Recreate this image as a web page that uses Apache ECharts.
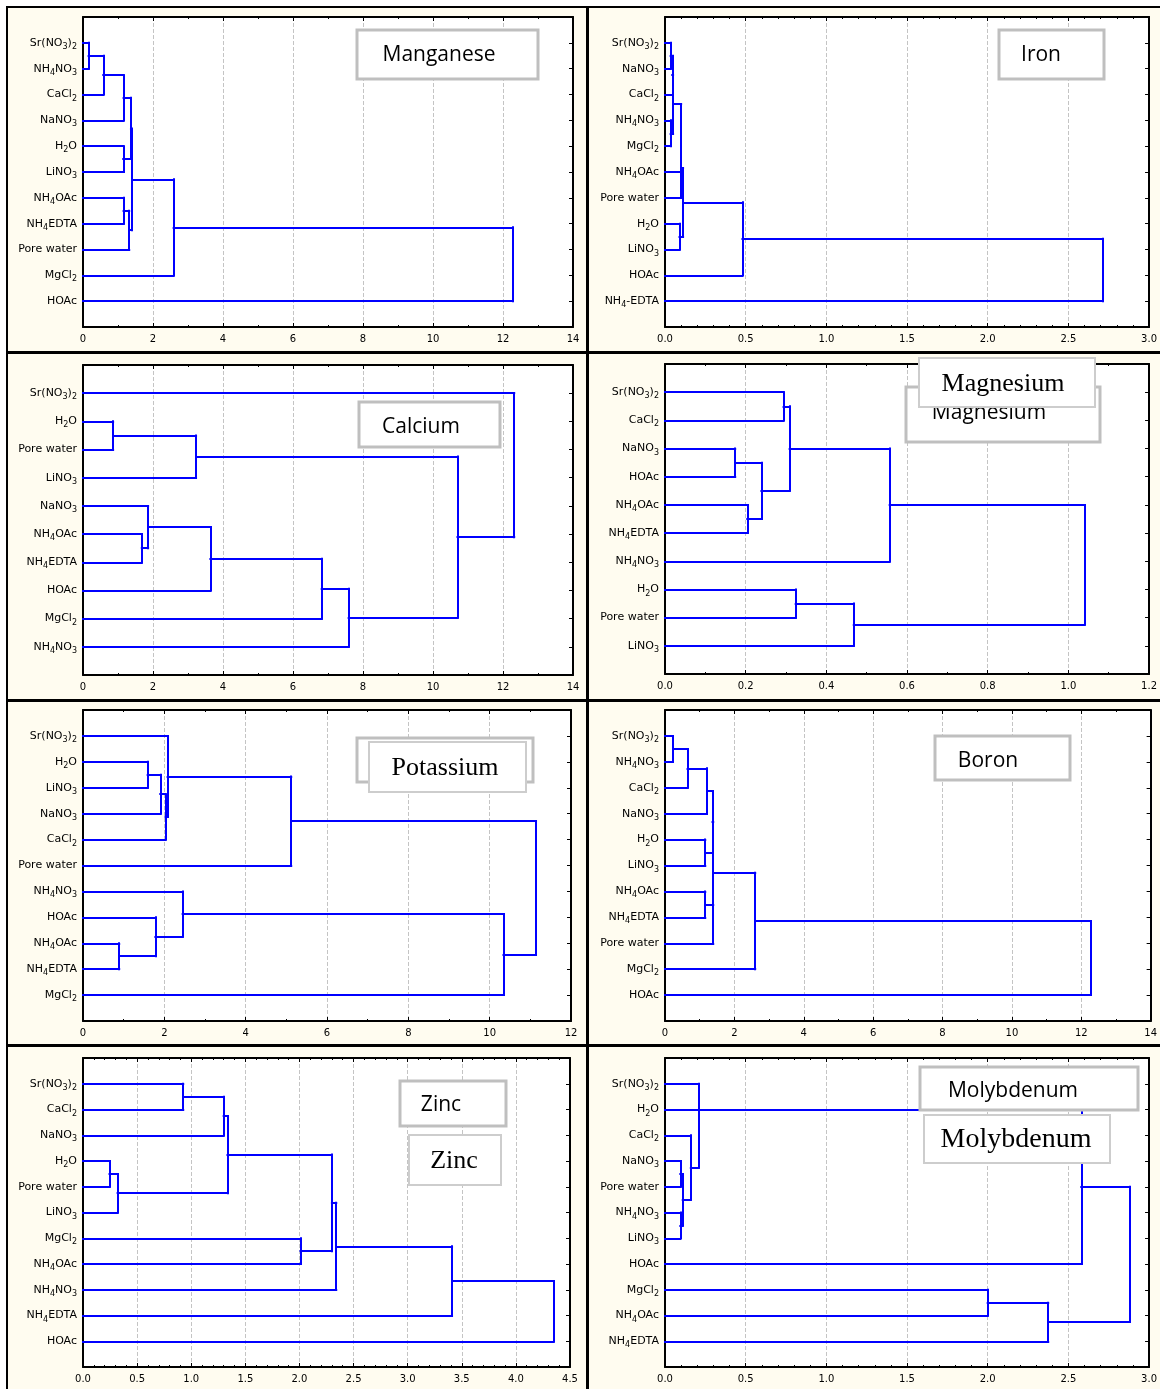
<!DOCTYPE html>
<html><head><meta charset="utf-8">
<script src="https://cdn.jsdelivr.net/npm/echarts@6/dist/echarts.min.js"></script>
<style>
html,body{margin:0;padding:0;background:#fff;}
#wrap{position:relative;width:1160px;height:1389px;overflow:hidden;}
.bg{position:absolute;left:6px;top:6px;width:1160px;height:1389px;background:#fffcf0;border-left:2px solid #000;border-top:2px solid #000;}
.vs{position:absolute;left:586px;top:6px;width:3px;height:1389px;background:#000;}
.hs{position:absolute;left:6px;width:1160px;height:3px;background:#000;}
#chart{position:absolute;left:0;top:0;width:1160px;height:1389px;}
</style></head>
<body>
<div id="wrap">
<div class="bg"></div><div class="vs"></div>
<div class="hs" style="top:351px"></div><div class="hs" style="top:699px"></div><div class="hs" style="top:1044px"></div>
<div id="chart"></div>
</div>
<script>
// ---------- DATA ----------
// merges: [childA, childB, (childC,) linkageDistance]; 'mK' = result of merge K
const mnLeaves = ['Sr(NO3)2','NH4NO3','CaCl2','NaNO3','H2O','LiNO3','NH4OAc','NH4EDTA','Pore water','MgCl2','HOAc'];
const mnMerges = [['Sr(NO3)2','NH4NO3',0.16],['m0','CaCl2',0.58],['m1','NaNO3',1.16],['H2O','LiNO3',1.15],['m2','m3',1.37],
  ['NH4OAc','NH4EDTA',1.16],['m5','Pore water',1.32],['m4','m6',1.40],['m7','MgCl2',2.59],['m8','HOAc',12.28]];
const mnTicks = [0,14,2];

const feLeaves = ['Sr(NO3)2','NaNO3','CaCl2','NH4NO3','MgCl2','NH4OAc','Pore water','H2O','LiNO3','HOAc','NH4-EDTA'];
const feMerges = [['Sr(NO3)2','NaNO3',0.035],['m0','CaCl2',0.045],['NH4NO3','MgCl2',0.035],['m1','m2',0.05],['m3','NH4OAc',0.10],
  ['m4','Pore water',0.10],['H2O','LiNO3',0.09],['m5','m6',0.112],['m7','HOAc',0.48],['m8','NH4-EDTA',2.71]];
const feTicks = [0,3,0.5];

const caLeaves = ['Sr(NO3)2','H2O','Pore water','LiNO3','NaNO3','NH4OAc','NH4EDTA','HOAc','MgCl2','NH4NO3'];
const caMerges = [['H2O','Pore water',0.86],['m0','LiNO3',3.23],['NH4OAc','NH4EDTA',1.68],['NaNO3','m2',1.86],['m3','HOAc',3.64],
  ['m4','MgCl2',6.82],['m5','NH4NO3',7.59],['m1','m6',10.70],['Sr(NO3)2','m7',12.32]];
const caTicks = [0,14,2];

const mgLeaves = ['Sr(NO3)2','CaCl2','NaNO3','HOAc','NH4OAc','NH4EDTA','NH4NO3','H2O','Pore water','LiNO3'];
const mgMerges = [['Sr(NO3)2','CaCl2',0.294],['NaNO3','HOAc',0.174],['NH4OAc','NH4EDTA',0.204],['m1','m2',0.239],['m0','m3',0.309],
  ['m4','NH4NO3',0.557],['H2O','Pore water',0.324],['m6','LiNO3',0.468],['m5','m7',1.04]];
const mgTicks = [0,1.2,0.2];

const kLeaves = ['Sr(NO3)2','H2O','LiNO3','NaNO3','CaCl2','Pore water','NH4NO3','HOAc','NH4OAc','NH4EDTA','MgCl2'];
const kMerges = [['H2O','LiNO3',1.59],['m0','NaNO3',1.90],['m1','CaCl2',2.03],['Sr(NO3)2','m2',2.08],['m3','Pore water',5.12],
  ['NH4OAc','NH4EDTA',0.89],['HOAc','m5',1.78],['NH4NO3','m6',2.45],['m7','MgCl2',10.34],['m4','m8',11.14]];
const kTicks = [0,12,2];

const bLeaves = ['Sr(NO3)2','NH4NO3','CaCl2','NaNO3','H2O','LiNO3','NH4OAc','NH4EDTA','Pore water','MgCl2','HOAc'];
const bMerges = [['Sr(NO3)2','NH4NO3',0.23],['m0','CaCl2',0.65],['m1','NaNO3',1.21],['H2O','LiNO3',1.16],['m2','m3',1.37],
  ['NH4OAc','NH4EDTA',1.16],['m5','Pore water',1.39],['m4','m6',1.39],['m7','MgCl2',2.60],['m8','HOAc',12.26]];
const bTicks = [0,14,2];

const znLeaves = ['Sr(NO3)2','CaCl2','NaNO3','H2O','Pore water','LiNO3','MgCl2','NH4OAc','NH4NO3','NH4EDTA','HOAc'];
const znMerges = [['Sr(NO3)2','CaCl2',0.926],['m0','NaNO3',1.30],['H2O','Pore water',0.245],['m2','LiNO3',0.32],['m1','m3',1.335],
  ['MgCl2','NH4OAc',2.01],['m4','m5',2.30],['m6','NH4NO3',2.34],['m7','NH4EDTA',3.41],['m8','HOAc',4.35]];
const znTicks = [0,4.5,0.5];

const moLeaves = ['Sr(NO3)2','H2O','CaCl2','NaNO3','Pore water','NH4NO3','LiNO3','HOAc','MgCl2','NH4OAc','NH4EDTA'];
const moMerges = [['NaNO3','Pore water',0.095],['NH4NO3','LiNO3',0.095],['m0','m1',0.11],['CaCl2','m2',0.16],['Sr(NO3)2','H2O','m3',0.21],
  ['m4','HOAc',2.58],['MgCl2','NH4OAc',2.00],['m6','NH4EDTA',2.375],['m5','m7',2.88]];
const moTicks = [0,3,0.5];

const titles = ['Manganese','Iron','Calcium','Magnesium','Potassium','Boron','Zinc','Molybdenum'];

// ---------- LAYOUT ----------
const panels = [
  {leaves:mnLeaves, merges:mnMerges, ticks:mnTicks, dec:0, minor:2, grid:{left:83,top:17,width:490,height:310}},
  {leaves:feLeaves, merges:feMerges, ticks:feTicks, dec:1, minor:5, grid:{left:665,top:17,width:491,height:310}},
  {leaves:caLeaves, merges:caMerges, ticks:caTicks, dec:0, minor:2, grid:{left:83,top:365,width:490,height:310}},
  {leaves:mgLeaves, merges:mgMerges, ticks:mgTicks, dec:1, minor:2, grid:{left:665,top:364,width:491,height:310}},
  {leaves:kLeaves, merges:kMerges, ticks:kTicks, dec:0, minor:2, grid:{left:83,top:710,width:488,height:311}},
  {leaves:bLeaves, merges:bMerges, ticks:bTicks, dec:0, minor:2, grid:{left:665,top:710,width:491,height:311}},
  {leaves:znLeaves, merges:znMerges, ticks:znTicks, dec:1, minor:5, grid:{left:83,top:1058,width:487,height:309}},
  {leaves:moLeaves, merges:moMerges, ticks:moTicks, dec:1, minor:5, grid:{left:665,top:1058,width:490,height:309}}
];

function toRich(s){
  return s.split(/(\d)/).filter(t => t !== '').map(t => /^\d$/.test(t) ? '{s|' + t + '}' : '{n|' + t + '}').join('');
}
function dendro(leaves, merges){
  const pos = {}, hgt = {};
  leaves.forEach((l,i) => { pos[l] = i + 1; hgt[l] = 0; });
  const data = [];
  merges.forEach((m,k) => {
    const h = m[m.length-1];
    const kids = m.slice(0, -1);
    const ys = kids.map(c => pos[c]);
    kids.forEach(c => data.push({coords:[[hgt[c], pos[c]], [h, pos[c]]]}));
    data.push({coords:[[h, Math.min.apply(null, ys)], [h, Math.max.apply(null, ys)]]});
    const s = ys.slice().sort((a,b) => a-b);
    const id = 'm' + k;
    pos[id] = s.length % 2 ? s[(s.length-1)/2] : (s[0] + s[s.length-1]) / 2;
    hgt[id] = h;
  });
  return data;
}

const FONT = 'DejaVu Sans';
const rich = {
  n:{fontFamily:FONT, fontSize:11, color:'#000', lineHeight:16},
  s:{fontFamily:FONT, fontSize:8, color:'#000', lineHeight:8, verticalAlign:'bottom'}
};
const grids = [], xAxes = [], yAxes = [], series = [];
panels.forEach((p,i) => {
  grids.push(Object.assign({show:true, backgroundColor:'#fff', borderWidth:0}, p.grid));
  const n = p.leaves.length;
  const common = {gridIndex:i, type:'value', min:p.ticks[0], max:p.ticks[1], interval:p.ticks[2],
    axisLine:{show:true, onZero:false, lineStyle:{color:'#000', width:2}},
    axisTick:{show:true, inside:true, length:4, lineStyle:{color:'#000', width:1}},
    minorTick:{show:true, splitNumber:p.minor, length:2, lineStyle:{color:'#000', width:1}}};
  xAxes.push(Object.assign({}, common, {position:'bottom',
    splitLine:{show:true, lineStyle:{color:'#c4c4c4', type:'dashed', width:1}},
    axisLabel:{show:true, margin:7, fontFamily:FONT, fontSize:10, color:'#000', formatter:v => v.toFixed(p.dec)}}));
  xAxes.push(Object.assign({}, common, {position:'top', splitLine:{show:false}, axisLabel:{show:false}}));
  const yc = {gridIndex:i, type:'value', min:0, max:n+1, interval:1, inverse:true,
    axisLine:{show:true, onZero:false, lineStyle:{color:'#000', width:2}},
    axisTick:{show:true, inside:true, length:4, lineStyle:{color:'#000', width:1}},
    splitLine:{show:false}};
  yAxes.push(Object.assign({}, yc, {position:'left',
    axisLabel:{show:true, margin:6, rich:rich, formatter:v => (v >= 1 && v <= n) ? toRich(p.leaves[v-1]) : ''}}));
  yAxes.push(Object.assign({}, yc, {position:'right', axisLabel:{show:false}}));
  series.push({type:'lines', coordinateSystem:'cartesian2d', xAxisIndex:2*i, yAxisIndex:2*i,
    data:dendro(p.leaves, p.merges), silent:true, z:5,
    lineStyle:{color:'#0000ff', width:2, opacity:1, cap:'square'}});
});

// title boxes
const SANS = '21px "Open Sans"', SERIF = '26px "Liberation Serif"';
const boxes = [
  {r:[357,30,181,49], lw:3, c:'#bfbfbf', t:titles[0], f:SANS, tx:439, ty:55},
  {r:[999,30,105,49], lw:3, c:'#bfbfbf', t:titles[1], f:SANS, tx:1041, ty:55},
  {r:[359,402,141,45], lw:3, c:'#bfbfbf', t:titles[2], f:SANS, tx:421, ty:427},
  {r:[906,387,194,55], lw:3, c:'#bfbfbf', t:titles[3], f:SANS, tx:989, ty:413},
  {r:[919,358,176,49], lw:2, c:'#cdcdcd', t:titles[3], f:SERIF, tx:1003, ty:384},
  {r:[357,738,176,44], lw:3, c:'#bfbfbf', t:'', f:SERIF, tx:0, ty:0},
  {r:[369,742,157,50], lw:2, c:'#cdcdcd', t:titles[4], f:SERIF, tx:445, ty:768},
  {r:[935,736,135,44], lw:3, c:'#bfbfbf', t:titles[5], f:SANS, tx:988, ty:761},
  {r:[400,1081,106,45], lw:3, c:'#bfbfbf', t:titles[6], f:SANS, tx:441, ty:1105},
  {r:[409,1135,92,50], lw:2, c:'#cdcdcd', t:titles[6], f:SERIF, tx:454, ty:1161},
  {r:[920,1067,218,43], lw:3, c:'#bfbfbf', t:titles[7], f:SANS, tx:1013, ty:1091},
  {r:[924,1115,186,48], lw:2, c:'#cdcdcd', t:titles[7], f:'28px "Liberation Serif"', tx:1016, ty:1140}
];
const graphic = [];
boxes.forEach((b,k) => {
  graphic.push({type:'rect', z:100 + k*2, silent:true, shape:{x:b.r[0], y:b.r[1], width:b.r[2], height:b.r[3]},
    style:{fill:'#fff', stroke:b.c, lineWidth:b.lw}});
  if (b.t) graphic.push({type:'text', z:101 + k*2, silent:true,
    style:{text:b.t, x:b.tx, y:b.ty, font:b.f, fill:'#000', textAlign:'center', textVerticalAlign:'middle', align:'center', verticalAlign:'middle'}});
});

const chart = echarts.init(document.getElementById('chart'), null, {renderer:'canvas'});
chart.setOption({animation:false, backgroundColor:'transparent', grid:grids, xAxis:xAxes, yAxis:yAxes, series:series, graphic:{elements:graphic}});
</script>
</body></html>
